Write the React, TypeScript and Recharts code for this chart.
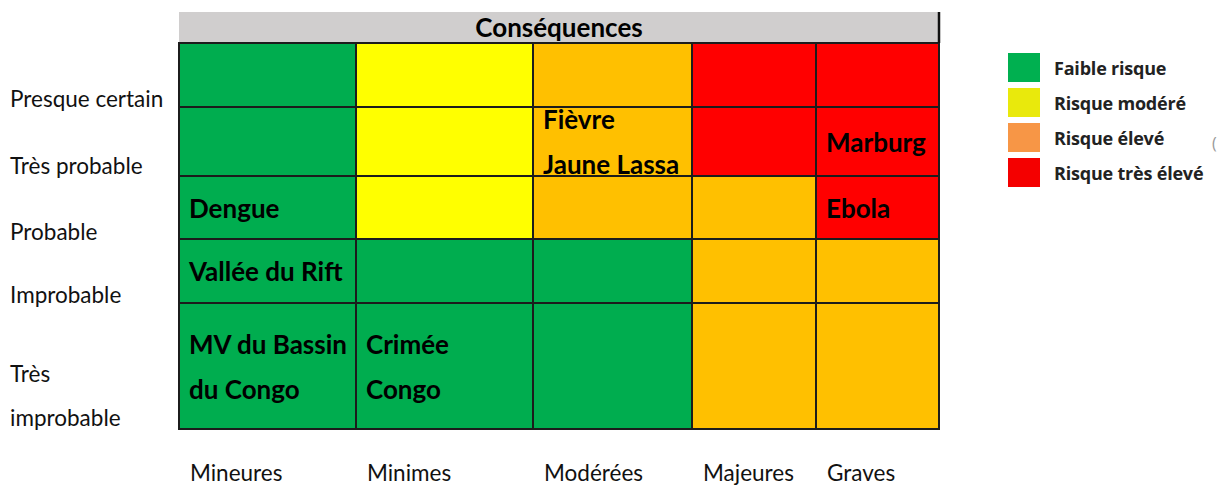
import React from 'react';
import { ComposedChart, XAxis, YAxis, ReferenceArea, ReferenceLine, Legend } from 'recharts';

// columns: consequences, rows: likelihood (top to bottom)
const consequences = ['Mineures', 'Minimes', 'Modérées', 'Majeures', 'Graves'];
const likelihoods = [['Presque certain'], ['Très probable'], ['Probable'], ['Improbable'], ['Très', 'improbable']];

// risk level per cell, one array per likelihood row
const rowPresqueCertain = ['faible', 'modere', 'eleve', 'tresEleve', 'tresEleve'];
const rowTresProbable = ['faible', 'modere', 'eleve', 'tresEleve', 'tresEleve'];
const rowProbable = ['faible', 'modere', 'eleve', 'eleve', 'tresEleve'];
const rowImprobable = ['faible', 'faible', 'faible', 'eleve', 'eleve'];
const rowTresImprobable = ['faible', 'faible', 'faible', 'eleve', 'eleve'];
const riskRows = [rowPresqueCertain, rowTresProbable, rowProbable, rowImprobable, rowTresImprobable];

// diseases placed in the matrix: [row, col, text lines]
const diseases: [number, number, string[]][] = [
  [1, 2, ['Fièvre', 'Jaune Lassa']],
  [1, 4, ['Marburg']],
  [2, 0, ['Dengue']],
  [2, 4, ['Ebola']],
  [3, 0, ['Vallée du Rift']],
  [4, 0, ['MV du Bassin', 'du Congo']],
  [4, 1, ['Crimée', 'Congo']],
];

const legendItems = [
  { key: 'faible', label: 'Faible risque' },
  { key: 'modere', label: 'Risque modéré' },
  { key: 'eleve', label: 'Risque élevé' },
  { key: 'tresEleve', label: 'Risque très élevé' },
];

// table layout (relative column widths / row heights, like the source table)
const COL_W = [177, 177, 159, 124, 123];
const ROW_H = [64, 69, 63, 64, 126];
const HEADER_H = 31;

const CELL_COLORS: Record<string, string> = {
  faible: '#00AD4F',
  modere: '#FFFF00',
  eleve: '#FFC000',
  tresEleve: '#FF0000',
};
const LEGEND_COLORS: Record<string, string> = {
  faible: '#00B050',
  modere: '#E9E90C',
  eleve: '#F79646',
  tresEleve: '#F40000',
};

const FONT = 'Lato, "Noto Sans", sans-serif';

const cum = (arr: number[]) => arr.map((_, i) => arr.slice(0, i).reduce((a, b) => a + b, 0));
const colStart = cum(COL_W);
const rowStart = cum(ROW_H);
const totalW = COL_W.reduce((a, b) => a + b, 0);
const totalH = ROW_H.reduce((a, b) => a + b, 0);
const rowCenters = rowStart.map((s, i) => s + ROW_H[i] / 2);

const LikelihoodTick = (props: any) => {
  const v = props.payload?.value;
  const idx = rowCenters.findIndex((c) => Math.abs(c - v) < 0.01);
  if (idx < 0) return null;
  const lines = likelihoods[idx];
  const n = lines.length;
  return (
    <g>
      {lines.map((l, i) => (
        <text
          key={i}
          x={10}
          y={props.y + 32 + (i - (n - 1) / 2) * 44 + (n - 1) * 6}
          fontFamily={FONT}
          fontSize={22.5}
          fill="#111"
        >
          {l}
        </text>
      ))}
    </g>
  );
};

const ConsequenceTick = (props: any) => {
  const v = props.payload?.value;
  const idx = colStart.findIndex((c) => Math.abs(c - v) < 0.01);
  if (idx < 0) return null;
  return (
    <text x={props.x + 11} y={481} fontFamily={FONT} fontSize={22.5} fill="#111">
      {consequences[idx]}
    </text>
  );
};

const cellText = (lines: string[]) => (p: any) => {
  const vb = p.viewBox || p;
  const cy = vb.y + vb.height / 2;
  const n = lines.length;
  return (
    <g>
      {lines.map((l, i) => (
        <text
          key={i}
          x={vb.x + 10}
          y={cy + 10 + (i - (n - 1) / 2) * 45}
          fontFamily={FONT}
          fontWeight={700}
          fontSize={26}
          fill="#000"
        >
          {l}
        </text>
      ))}
    </g>
  );
};

const headerText = (p: any) => {
  const vb = p.viewBox || p;
  return (
    <text
      x={vb.x + vb.width / 2}
      y={vb.y + vb.height / 2 + 9}
      textAnchor="middle"
      fontFamily={FONT}
      fontWeight={700}
      fontSize={26}
      fill="#000"
    >
      Conséquences
    </text>
  );
};

const RiskLegend = () => (
  <div
    style={{
      position: 'relative',
      fontFamily: '"Open Sans", sans-serif',
      fontWeight: 700,
      fontSize: 18,
      color: '#222',
      letterSpacing: -0.2,
    }}
  >
    {legendItems.map((it) => (
      <div key={it.key} style={{ display: 'flex', alignItems: 'center', height: 35 }}>
        <span
          style={{
            display: 'inline-block',
            width: 32,
            height: 29,
            background: LEGEND_COLORS[it.key],
            marginRight: 14,
          }}
        />
        <span>{it.label}</span>
      </div>
    ))}
    <span style={{ position: 'absolute', left: 204, top: 82, fontWeight: 400, fontSize: 16, color: '#999' }}>(</span>
  </div>
);

export default function App() {
  return (
    <div style={{ position: 'absolute', left: 0, top: 0, background: '#fff' }}>
      <ComposedChart width={1219} height={488} data={[]} margin={{ top: 12, right: 280, bottom: 0, left: 0 }}>
        <XAxis
          type="number"
          dataKey="x"
          domain={[0, totalW]}
          allowDataOverflow
          ticks={colStart}
          interval={0}
          tick={<ConsequenceTick />}
          axisLine={false}
          tickLine={false}
          height={59}
        />
        <YAxis
          type="number"
          dataKey="y"
          domain={[-HEADER_H, totalH]}
          allowDataOverflow
          reversed
          ticks={rowCenters}
          interval={0}
          tick={<LikelihoodTick />}
          axisLine={false}
          tickLine={false}
          width={179}
        />
        <ReferenceArea
          x1={0}
          x2={totalW}
          y1={-HEADER_H}
          y2={0}
          fill="#D0CECE"
          fillOpacity={1}
          stroke="none"
          ifOverflow="visible"
          label={headerText}
        />
        <ReferenceLine
          segment={[
            { x: totalW, y: -HEADER_H },
            { x: totalW, y: 0 },
          ]}
          stroke="#111"
          strokeWidth={2.5}
          ifOverflow="visible"
        />
        {riskRows.map((row, r) =>
          row.map((level, c) => (
            <ReferenceArea
              key={`cell-${r}-${c}`}
              x1={colStart[c]}
              x2={colStart[c] + COL_W[c]}
              y1={rowStart[r]}
              y2={rowStart[r] + ROW_H[r]}
              fill={CELL_COLORS[level]}
              fillOpacity={1}
              stroke="#1c1c1c"
              strokeWidth={2}
              strokeOpacity={1}
              ifOverflow="visible"
            />
          ))
        )}
        {diseases.map(([r, c, lines]) => (
          <ReferenceArea
            key={`lbl-${r}-${c}`}
            x1={colStart[c]}
            x2={colStart[c] + COL_W[c]}
            y1={rowStart[r]}
            y2={rowStart[r] + ROW_H[r]}
            fill="none"
            fillOpacity={0}
            stroke="none"
            ifOverflow="visible"
            label={cellText(lines)}
          />
        ))}
        <Legend
          layout="horizontal"
          verticalAlign="middle"
          align="center"
          wrapperStyle={{ left: 1008, top: 50, width: 211, right: 'auto', bottom: 'auto' }}
          content={<RiskLegend />}
        />
      </ComposedChart>
    </div>
  );
}
